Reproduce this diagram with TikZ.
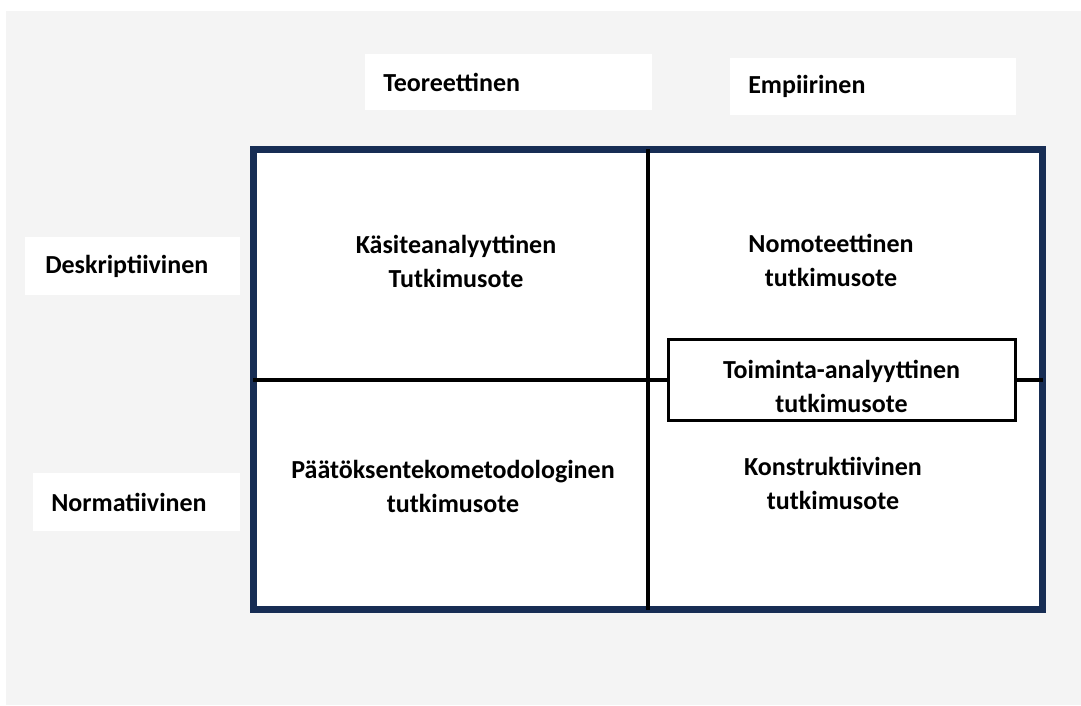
\documentclass[tikz,border=0pt]{standalone}
\usepackage{fontspec}
\setmainfont{Carlito}
\usetikzlibrary{positioning}
\definecolor{framenavy}{RGB}{23,45,84}
\definecolor{pagegray}{RGB}{244,244,244}

\begin{document}
\begin{tikzpicture}[x=0.75pt,y=0.75pt,yscale=-1,xscale=1,
  every node/.style={font=\fontsize{19.5}{25.5}\selectfont\bfseries},
  headbox/.style={fill=white,inner xsep=13.5pt,inner ysep=0pt,anchor=west,align=left},
  cell/.style={align=center,inner sep=0.75pt},
  divider/.style={line width=3pt,shorten <=2.6pt,shorten >=2.6pt}]
\useasboundingbox (0,0) rectangle (1081,706);

%Shape: Page background
\fill [pagegray] (6,11) rectangle (1081,705);

% Head boxes
\node [headbox, text width=188.25pt, minimum height=42pt] (teor) at (365,82) {Teoreettinen};
\node [headbox, text width=187.5pt, minimum height=42.75pt] (empi) at (730,86.5) {Empiirinen};
\node [headbox, text width=131.25pt, minimum height=43.5pt, inner xsep=15pt] (desk) at (25,266) {Deskriptiivinen};
\node [headbox, text width=128.25pt, minimum height=43.5pt] (norm) at (33,502) {Normatiivinen};

%Shape: Frame
\node [draw=framenavy, fill=white, line width=5.25pt, inner sep=0pt,
  minimum width=591.75pt, minimum height=345pt] (frame) at (648,379.5) {};

%Shape: Toiminta box
\node [draw, fill=white, line width=2.25pt, inner sep=0pt,
  minimum width=260.25pt, minimum height=60.75pt] (toim) at (841.5,379.5) {};

% Dividers
\draw [divider] (frame.north) -- (frame.south);
\draw [divider, shorten >=0pt] (frame.west) -- (toim.west);
\draw [divider, shorten <=0pt] (toim.east) -- (frame.east);

% Text Node
\node [cell] (kasite) at (456,261) {Käsiteanalyyttinen\\Tutkimusote};
% Text Node
\node [cell] (nomo) at (831,260) {Nomoteettinen\\tutkimusote};
% Text Node
\node [cell] (toimtxt) at (841.5,386) {Toiminta-analyyttinen\\tutkimusote};
% Text Node
\node [cell] (paatos) at (453,486) {Päätöksentekometodologinen\\tutkimusote};
% Text Node
\node [cell] (konstr) at (833,483) {Konstruktiivinen\\tutkimusote};

\end{tikzpicture}
\end{document}
